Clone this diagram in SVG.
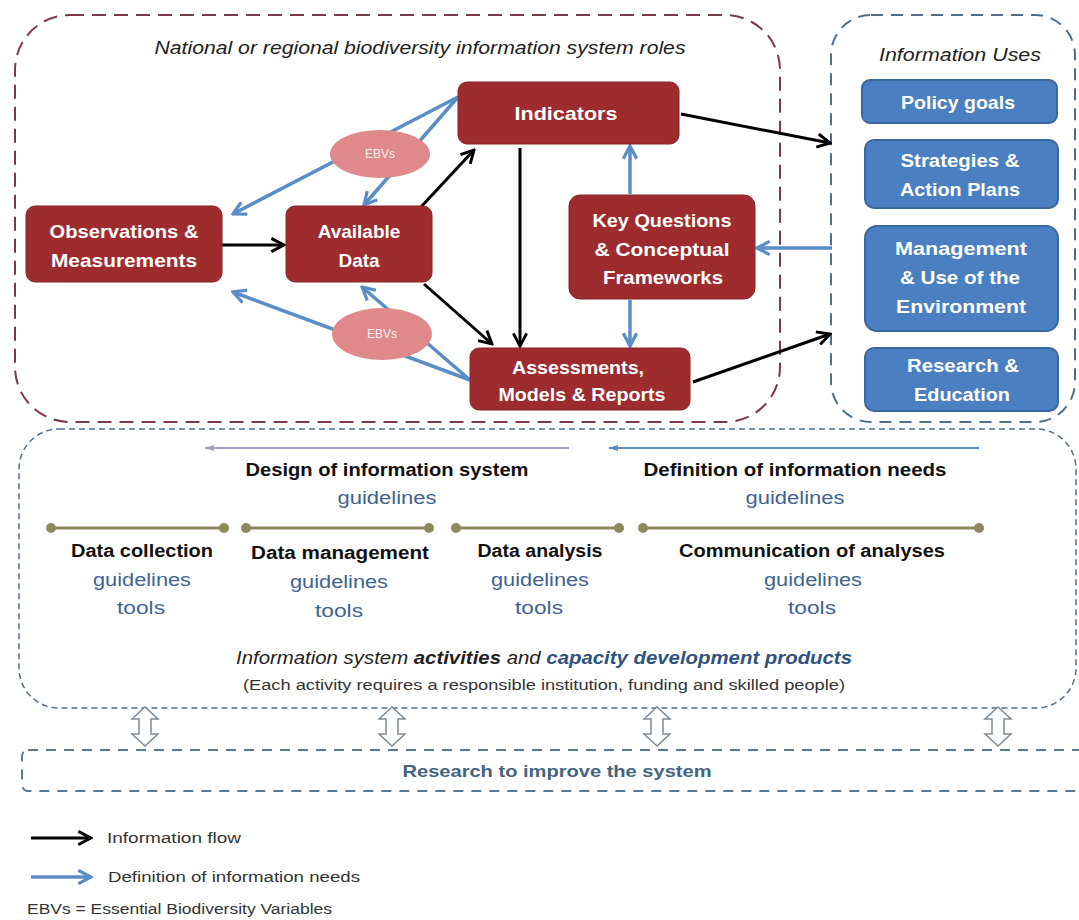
<svg xmlns="http://www.w3.org/2000/svg" width="1079" height="920" viewBox="0 0 1079 920">
<defs>
<style>
.rb{fill:#9e2b2e;stroke:#8a2427;stroke-width:1}
.bb{fill:#4a7fc1;stroke:#3a679f;stroke-width:2}
.wt{font-family:"Liberation Sans",Arial,sans-serif;font-weight:bold;font-size:19px;fill:#ffffff;text-anchor:middle}
.blk{stroke:#000;stroke-width:3;fill:none}
.blu{stroke:#5a8dc6;stroke-width:3.5;fill:none}
.hd{font-family:"Liberation Sans",Arial,sans-serif;font-weight:bold;font-size:18px;fill:#111;text-anchor:middle}
.gl{font-family:"Liberation Sans",Arial,sans-serif;font-size:18px;fill:#3f6391;text-anchor:middle}
.ol{stroke:#8c8a5c;stroke-width:3}
.dot{fill:#8c8a5c}
.ebv{fill:#e0898a}
.ebt{font-family:"Liberation Sans",Arial,sans-serif;font-size:12px;fill:#fdeeee;text-anchor:middle}
.dbl{fill:#fff;stroke:#7d8a94;stroke-width:1.5}
.lg{font-family:"Liberation Sans",Arial,sans-serif;font-size:14px;fill:#333}
</style>
<marker id="mk" viewBox="0 0 12 12" refX="10.5" refY="6" markerWidth="16" markerHeight="16" orient="auto" markerUnits="userSpaceOnUse"><path d="M1,1 L10.5,6 L1,11" fill="none" stroke="#000" stroke-width="2.2"/></marker>
<marker id="mb" viewBox="0 0 12 12" refX="10.5" refY="6" markerWidth="16" markerHeight="16" orient="auto" markerUnits="userSpaceOnUse"><path d="M1,1 L10.5,6 L1,11" fill="none" stroke="#5a8dc6" stroke-width="2.4"/></marker>
<marker id="mp" viewBox="0 0 10 10" refX="9" refY="5" markerWidth="12" markerHeight="10" orient="auto" markerUnits="userSpaceOnUse"><path d="M0,2 L10,5 L0,8 Z" fill="#a59fc9"/></marker>
<marker id="mq" viewBox="0 0 10 10" refX="9" refY="5" markerWidth="12" markerHeight="10" orient="auto" markerUnits="userSpaceOnUse"><path d="M0,2 L10,5 L0,8 Z" fill="#5f8cc0"/></marker>
</defs>
<rect width="1079" height="920" fill="#ffffff"/>

<g id="roles-container">
<rect x="15" y="15" width="765" height="407" rx="55" fill="none" stroke="#7b3a48" stroke-width="2" stroke-dasharray="14 8"/>
<text x="420" y="54" font-family="Liberation Sans,Arial,sans-serif" font-style="italic" font-size="18" fill="#222" text-anchor="middle" textLength="531" lengthAdjust="spacingAndGlyphs">National or regional biodiversity information system roles</text>
</g>
<g id="uses-container">
<rect x="831" y="15" width="244" height="407" rx="40" fill="none" stroke="#4f6e8c" stroke-width="2" stroke-dasharray="12 8"/>
<text x="960" y="61" font-family="Liberation Sans,Arial,sans-serif" font-style="italic" font-size="18" fill="#222" text-anchor="middle" textLength="162" lengthAdjust="spacingAndGlyphs">Information Uses</text>
</g>

<g id="connectors">
<line class="blk" x1="222" y1="245" x2="284" y2="245" marker-end="url(#mk)"/>
<line class="blk" x1="420" y1="208" x2="474" y2="150" marker-end="url(#mk)"/>
<line class="blk" x1="424" y1="284" x2="492" y2="344" marker-end="url(#mk)"/>
<line class="blk" x1="520" y1="148" x2="520" y2="346" marker-end="url(#mk)"/>
<line class="blk" x1="681" y1="114" x2="830" y2="143" marker-end="url(#mk)"/>
<line class="blk" x1="693" y1="382" x2="830" y2="334" marker-end="url(#mk)"/>
<line class="blu" x1="458" y1="97" x2="233" y2="214" marker-end="url(#mb)"/>
<line class="blu" x1="458" y1="97" x2="364" y2="205" marker-end="url(#mb)"/>
<line class="blu" x1="470" y1="380" x2="233" y2="292" marker-end="url(#mb)"/>
<line class="blu" x1="470" y1="380" x2="362" y2="287" marker-end="url(#mb)"/>
<line class="blu" x1="832" y1="248" x2="757" y2="248" marker-end="url(#mb)"/>
<line class="blu" x1="630" y1="194" x2="630" y2="146" marker-end="url(#mb)"/>
<line class="blu" x1="630" y1="300" x2="630" y2="346" marker-end="url(#mb)"/>
<line x1="569" y1="448" x2="205" y2="448" stroke="#a59fc9" stroke-width="2" marker-end="url(#mp)"/>
<line x1="979" y1="448" x2="609" y2="448" stroke="#5f8cc0" stroke-width="2" marker-end="url(#mq)"/>
</g>

<g id="ebv-top">
<ellipse class="ebv" cx="380" cy="154" rx="50" ry="24"/>
<text class="ebt" x="380" y="158">EBVs</text>
</g>
<g id="ebv-bottom">
<ellipse class="ebv" cx="382" cy="334" rx="50" ry="26"/>
<text class="ebt" x="382" y="338">EBVs</text>
</g>

<g id="observations">
<rect class="rb" x="26" y="206" width="196" height="76" rx="9"/>
<text class="wt" x="124" y="238" textLength="149" lengthAdjust="spacingAndGlyphs">Observations &amp;</text>
<text class="wt" x="124" y="267" textLength="146" lengthAdjust="spacingAndGlyphs">Measurements</text>
</g>
<g id="available-data">
<rect class="rb" x="286" y="206" width="146" height="76" rx="9"/>
<text class="wt" x="359" y="238">Available</text>
<text class="wt" x="359" y="267">Data</text>
</g>
<g id="indicators">
<rect class="rb" x="458" y="82" width="221" height="62" rx="9"/>
<text class="wt" x="566" y="120" textLength="103" lengthAdjust="spacingAndGlyphs">Indicators</text>
</g>
<g id="key-questions">
<rect class="rb" x="569" y="195" width="186" height="104" rx="11"/>
<text class="wt" x="662" y="227" textLength="139" lengthAdjust="spacingAndGlyphs">Key Questions</text>
<text class="wt" x="662" y="256" textLength="135" lengthAdjust="spacingAndGlyphs">&amp; Conceptual</text>
<text class="wt" x="663" y="284" textLength="120" lengthAdjust="spacingAndGlyphs">Frameworks</text>
</g>
<g id="assessments">
<rect class="rb" x="470" y="348" width="220" height="62" rx="9"/>
<text class="wt" x="578" y="374" textLength="132" lengthAdjust="spacingAndGlyphs">Assessments,</text>
<text class="wt" x="582" y="401" textLength="167" lengthAdjust="spacingAndGlyphs">Models &amp; Reports</text>
</g>

<g id="policy-goals">
<rect class="bb" x="862" y="80" width="195" height="43" rx="8"/>
<text class="wt" x="958" y="109" textLength="114" lengthAdjust="spacingAndGlyphs">Policy goals</text>
</g>
<g id="strategies">
<rect class="bb" x="865" y="140" width="193" height="68" rx="9"/>
<text class="wt" x="960" y="167" textLength="119" lengthAdjust="spacingAndGlyphs">Strategies &amp;</text>
<text class="wt" x="960" y="196" textLength="120" lengthAdjust="spacingAndGlyphs">Action Plans</text>
</g>
<g id="management">
<rect class="bb" x="865" y="226" width="193" height="105" rx="12"/>
<text class="wt" x="961" y="255" textLength="132" lengthAdjust="spacingAndGlyphs">Management</text>
<text class="wt" x="960" y="284" textLength="120" lengthAdjust="spacingAndGlyphs">&amp; Use of the</text>
<text class="wt" x="961" y="313" textLength="130" lengthAdjust="spacingAndGlyphs">Environment</text>
</g>
<g id="research-education">
<rect class="bb" x="865" y="348" width="193" height="63" rx="9"/>
<text class="wt" x="963" y="372" textLength="112" lengthAdjust="spacingAndGlyphs">Research &amp;</text>
<text class="wt" x="962" y="401" textLength="96" lengthAdjust="spacingAndGlyphs">Education</text>
</g>

<g id="activities">
<rect x="19" y="429" width="1057" height="279" rx="40" fill="none" stroke="#4f6e8c" stroke-width="1.5" stroke-dasharray="6 4"/>
<text class="hd" x="387" y="476" textLength="283" lengthAdjust="spacingAndGlyphs">Design of information system</text>
<text class="gl" x="387" y="504" textLength="99" lengthAdjust="spacingAndGlyphs">guidelines</text>
<text class="hd" x="795" y="476" textLength="303" lengthAdjust="spacingAndGlyphs">Definition of information needs</text>
<text class="gl" x="795" y="504" textLength="99" lengthAdjust="spacingAndGlyphs">guidelines</text>
<line class="ol" x1="51" y1="528" x2="224" y2="528"/>
<circle class="dot" cx="51" cy="528" r="5"/><circle class="dot" cx="224" cy="528" r="5"/>
<line class="ol" x1="246" y1="528" x2="429" y2="528"/>
<circle class="dot" cx="246" cy="528" r="5"/><circle class="dot" cx="429" cy="528" r="5"/>
<line class="ol" x1="456" y1="528" x2="619" y2="528"/>
<circle class="dot" cx="456" cy="528" r="5"/><circle class="dot" cx="619" cy="528" r="5"/>
<line class="ol" x1="643" y1="528" x2="979" y2="528"/>
<circle class="dot" cx="643" cy="528" r="5"/><circle class="dot" cx="979" cy="528" r="5"/>
<text class="hd" x="142" y="557" textLength="142" lengthAdjust="spacingAndGlyphs">Data collection</text>
<text class="gl" x="142" y="586" textLength="98" lengthAdjust="spacingAndGlyphs">guidelines</text>
<text class="gl" x="141" y="614" textLength="48" lengthAdjust="spacingAndGlyphs">tools</text>
<text class="hd" x="340" y="559" textLength="178" lengthAdjust="spacingAndGlyphs">Data management</text>
<text class="gl" x="339" y="588" textLength="98" lengthAdjust="spacingAndGlyphs">guidelines</text>
<text class="gl" x="339" y="617" textLength="48" lengthAdjust="spacingAndGlyphs">tools</text>
<text class="hd" x="540" y="557" textLength="125" lengthAdjust="spacingAndGlyphs">Data analysis</text>
<text class="gl" x="540" y="586" textLength="98" lengthAdjust="spacingAndGlyphs">guidelines</text>
<text class="gl" x="539" y="614" textLength="48" lengthAdjust="spacingAndGlyphs">tools</text>
<text class="hd" x="812" y="557" textLength="266" lengthAdjust="spacingAndGlyphs">Communication of analyses</text>
<text class="gl" x="813" y="586" textLength="98" lengthAdjust="spacingAndGlyphs">guidelines</text>
<text class="gl" x="812" y="614" textLength="48" lengthAdjust="spacingAndGlyphs">tools</text>
<text x="544" y="664" font-family="Liberation Sans,Arial,sans-serif" font-style="italic" font-size="18" fill="#222" text-anchor="middle" textLength="616" lengthAdjust="spacingAndGlyphs">Information system <tspan font-weight="bold">activities</tspan> and <tspan font-weight="bold" fill="#2f5280">capacity development products</tspan></text>
<text x="544" y="690" font-family="Liberation Sans,Arial,sans-serif" font-size="14" fill="#333" text-anchor="middle" textLength="602" lengthAdjust="spacingAndGlyphs">(Each activity requires a responsible institution, funding and skilled people)</text>
</g>

<g id="link-arrows">
<path class="dbl" d="M145,707 L158,719 L151,719 L151,734 L158,734 L145,746 L132,734 L139,734 L139,719 L132,719 Z"/>
<path class="dbl" d="M392,707 L405,719 L398,719 L398,734 L405,734 L392,746 L379,734 L386,734 L386,719 L379,719 Z"/>
<path class="dbl" d="M657,707 L670,719 L663,719 L663,734 L670,734 L657,746 L644,734 L651,734 L651,719 L644,719 Z"/>
<path class="dbl" d="M998,707 L1011,719 L1004,719 L1004,734 L1011,734 L998,746 L985,734 L992,734 L992,719 L985,719 Z"/>
</g>

<g id="research-box">
<rect x="22" y="750" width="1070" height="41" rx="6" fill="none" stroke="#5a7a90" stroke-width="2" stroke-dasharray="10 8"/>
<text x="557" y="777" font-family="Liberation Sans,Arial,sans-serif" font-weight="bold" font-size="17" fill="#44647f" text-anchor="middle" textLength="309" lengthAdjust="spacingAndGlyphs">Research to improve the system</text>
</g>

<g id="legend">
<line x1="31" y1="838" x2="91" y2="838" stroke="#000" stroke-width="3" marker-end="url(#mk)"/>
<text class="lg" x="107" y="843" textLength="134" lengthAdjust="spacingAndGlyphs">Information flow</text>
<line x1="31" y1="877" x2="91" y2="877" stroke="#5a8dc6" stroke-width="3.5" marker-end="url(#mb)"/>
<text class="lg" x="108" y="882" textLength="252" lengthAdjust="spacingAndGlyphs">Definition of information needs</text>
<text class="lg" x="27" y="914" textLength="305" lengthAdjust="spacingAndGlyphs">EBVs = Essential Biodiversity Variables</text>
</g>
</svg>
